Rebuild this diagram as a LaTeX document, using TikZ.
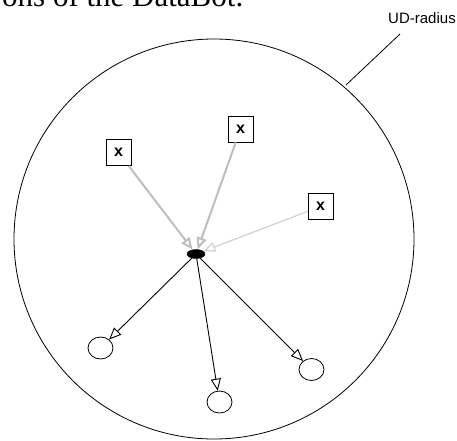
\documentclass[tikz,border=0pt]{standalone}
\usepackage{fontspec}
\setmainfont{Liberation Serif}
\setsansfont{Liberation Sans}
\usetikzlibrary{arrows.meta,shapes}
\definecolor{lightgray}{HTML}{BEBEBE}
\definecolor{paletray}{HTML}{D0D0D0}

\begin{document}
\begin{tikzpicture}[x=1pt, y=-1pt,
    every node/.style={font=\sffamily},
    xbox/.style={rectangle, draw, line width=0.8pt, minimum width=25pt, minimum height=26pt, inner sep=0pt, font=\sffamily\bfseries\fontsize{16}{16}\selectfont},
    target/.style={ellipse, draw, line width=0.8pt, minimum width=25pt, minimum height=22pt, inner sep=0pt},
    opentip/.style={-{Triangle[open, length=12pt, width=10pt]}}]
      \useasboundingbox (0,0) rectangle (457,440);

      % caption cut at the top
      \node[anchor=base west, inner sep=0pt, font=\rmfamily\fontsize{31}{31}\selectfont] (caption) at (2,6) {ons of the DataBot.};

      % UD range
      \node[circle, draw, line width=0.8pt, minimum size=400pt, inner sep=0pt] (range) at (214,239) {};
      \node[font=\sffamily\fontsize{15}{15}\selectfont, inner sep=0pt] (udlabel) at (422,18) {UD-radius};
      \coordinate (udstart) at (400,34);
      \coordinate (udend) at (346,85);
      \draw[line width=0.8pt] (udstart) -- (udend);

      % DataBot
      \node[ellipse, draw, fill=black, minimum width=18pt, minimum height=9pt, inner sep=0pt] (bot) at (196,254) {};

      % boxes
      \node[xbox] (x1) at (118.5,152.5) {x};
      \node[xbox] (x2) at (240.5,129) {x};
      \node[xbox] (x3) at (320.5,206.5) {x};
      \draw[opentip, line width=2pt, lightgray] (x1) -- (bot);
      \draw[opentip, line width=2pt, lightgray] (x2) -- (bot);
      \draw[opentip, line width=1.2pt, paletray] (x3) -- (bot);

      % targets
      \node[target] (c1) at (100.5,348) {};
      \node[target] (c2) at (219.5,402) {};
      \node[target] (c3) at (311.5,369.5) {};
      \draw[opentip, line width=0.9pt] (bot) -- (c1);
      \draw[opentip, line width=0.9pt] (bot) -- (c2);
      \draw[opentip, line width=0.9pt] (bot) -- (c3);
    \end{tikzpicture}
\end{document}
